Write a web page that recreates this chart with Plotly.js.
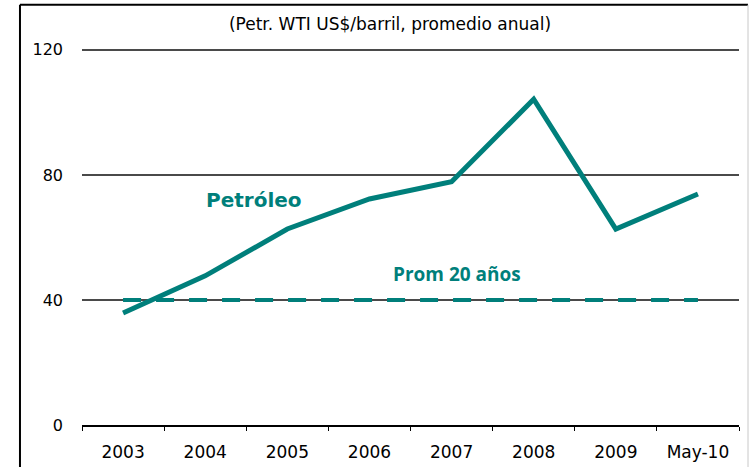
<!DOCTYPE html>
<html><head><meta charset="utf-8">
<script src="https://cdn.plot.ly/plotly-3.0.1.min.js"></script>
<style>html,body{margin:0;padding:0;background:#fff}#chart{width:751px;height:467px}</style>
</head><body><div id="chart"></div>
<script>
const categories = ["2003","2004","2005","2006","2007","2008","2009","May-10"];
const petroleo = [35.8, 47.7, 62.7, 72.3, 77.8, 104.2, 62.7, 73.9];
const prom20 = [40, 40, 40, 40, 40, 40, 40, 40];
const yTicks = [0, 40, 80, 120];
const teal = "#007f7b";
const FONT = "DejaVu Sans, Arial, sans-serif";

const traces = [
  {x: categories, y: prom20, type: "scatter", mode: "lines", name: "Prom 20 años",
   line: {color: teal, width: 4, dash: "18px,15px"}, hoverinfo: "skip"},
  {x: categories, y: petroleo, type: "scatter", mode: "lines", name: "Petróleo",
   line: {color: teal, width: 5}, hoverinfo: "skip"}
];

const layout = {
  width: 751, height: 467,
  margin: {l: 82, r: 12, t: 48, b: 42},
  paper_bgcolor: "#fff", plot_bgcolor: "#fff",
  showlegend: false,
  font: {family: FONT, size: 16, color: "#000"},
  title: {text: "(Petr. WTI US$/barril, promedio anual)", font: {size: 17, color: "#000", family: FONT},
          x: 0.4688, xref: "paper", y: 22, yref: "container", xanchor: "center", yanchor: "middle"},
  xaxis: {type: "category", showgrid: false, zeroline: false, showline: true,
          linecolor: "#000", linewidth: 2, ticks: "outside", tickson: "boundaries",
          ticklen: 4, tickcolor: "#000", tickwidth: 1, tickfont: {size: 17},
          ticklabelstandoff: 11, range: [-0.5, 7.5], fixedrange: true},
  yaxis: {range: [0, 120.6], tickvals: yTicks, showgrid: true, gridcolor: "#4a4a4a",
          gridwidth: 1.5, zeroline: false, showline: false, ticks: "",
          tickfont: {size: 16}, ticklabelstandoff: 18, fixedrange: true},
  annotations: [
    {text: "<b>Petróleo</b>", x: 0.262, y: 72, xref: "paper", yref: "y", showarrow: false,
     xanchor: "center", yanchor: "middle",
     font: {size: 20, color: teal, family: FONT}},
    {text: "<b>Prom 20 años</b>", x: 0.571, y: 48.3, xref: "paper", yref: "y", showarrow: false,
     xanchor: "center", yanchor: "middle",
     font: {size: 19, color: teal, family: "Open Sans, sans-serif"}}
  ],
  shapes: [
    {type: "line", xref: "paper", yref: "paper", x0: -0.0944, x1: 1.0137, y0: 1.1147, y1: 1.1147,
     line: {color: "#000", width: 2}},
    {type: "line", xref: "paper", yref: "paper", x0: -0.0944, x1: -0.0944, y0: 1.1147, y1: -0.13,
     line: {color: "#000", width: 2}},
    {type: "line", xref: "paper", yref: "paper", x0: 1.0137, x1: 1.0137, y0: 1.1147, y1: -0.13,
     line: {color: "#c8c8c8", width: 1}}
  ]
};

Plotly.newPlot("chart", traces, layout, {displayModeBar: false, staticPlot: true});
</script></body></html>
